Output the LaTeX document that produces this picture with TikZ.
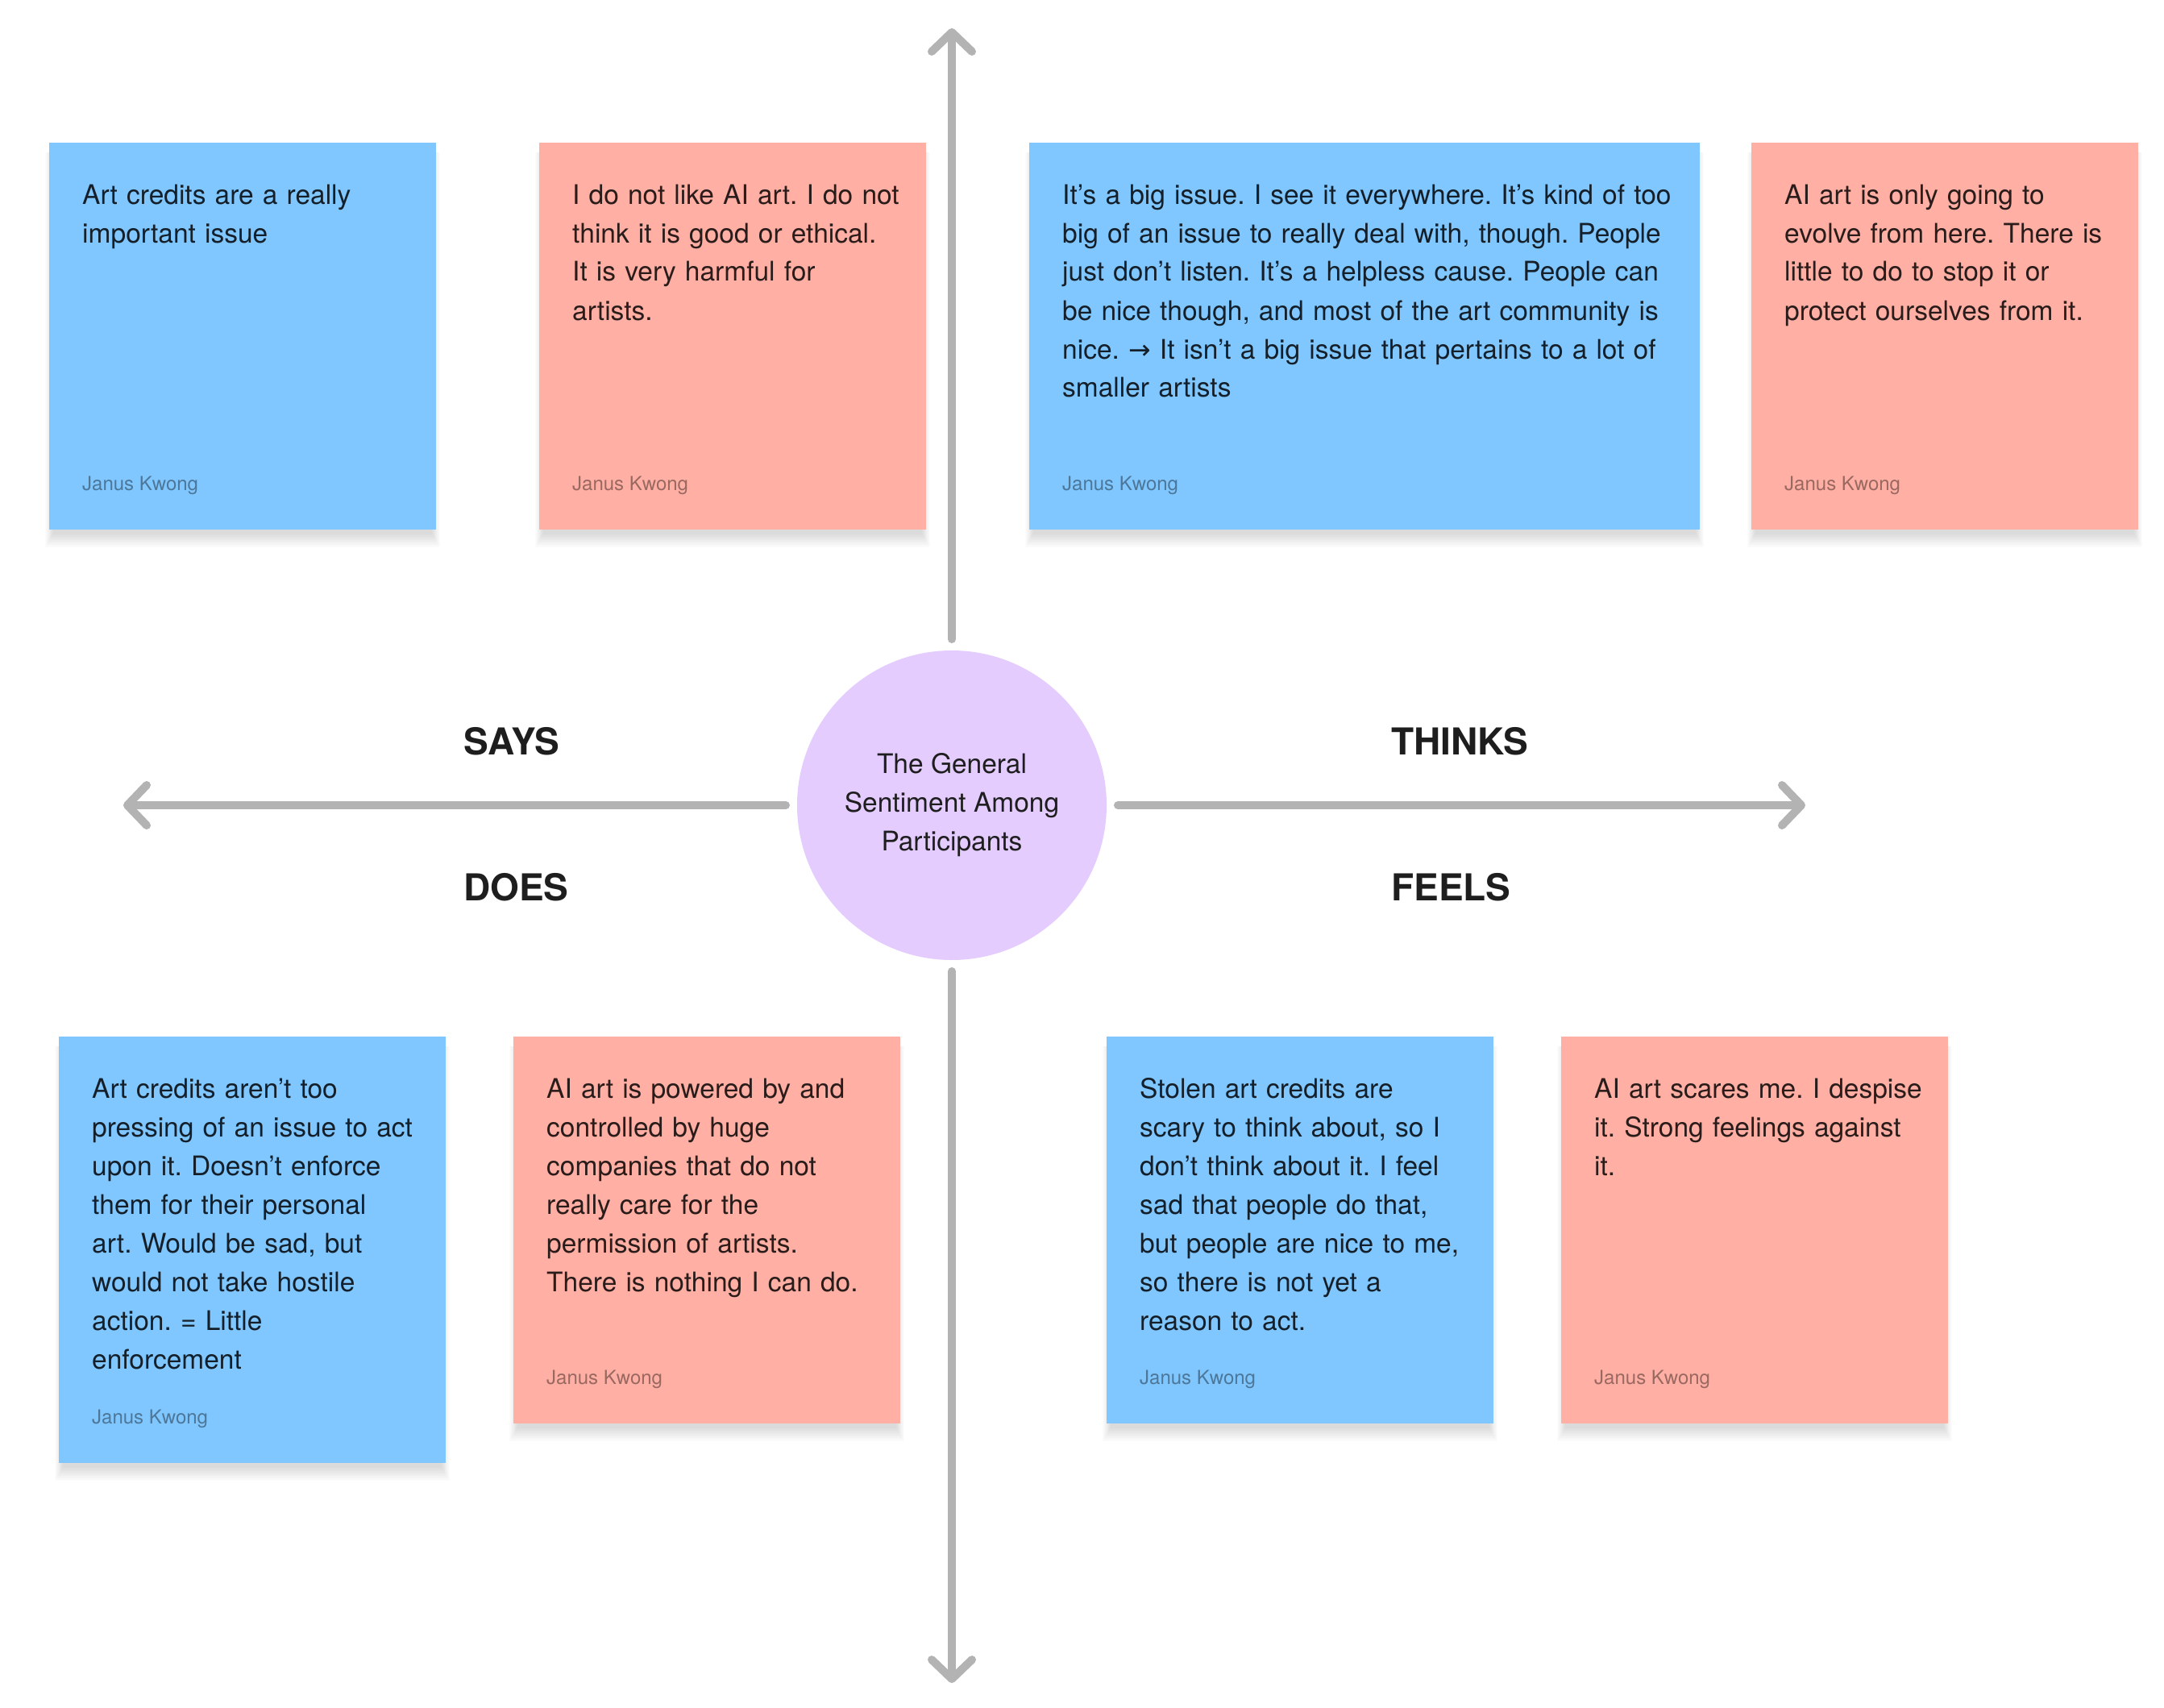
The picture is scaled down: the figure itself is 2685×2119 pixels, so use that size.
\documentclass[tikz,border=0pt]{standalone}
\usepackage{fontspec}
\setmainfont{TeX Gyre Heros}
\newfontfamily\arrowfont{DejaVu Sans}
\usetikzlibrary{arrows.meta}
\definecolor{noteblue}{HTML}{80C7FF}
\definecolor{notered}{HTML}{FFAFA3}
\definecolor{hub}{HTML}{E4CCFF}
\definecolor{axisgrey}{HTML}{B3B3B3}
\definecolor{ink}{HTML}{1E1E1E}
\frenchspacing
% soft drop shadow under a note: x, y (top left), width, height
\newcommand\notesoftshadow[4]{%
  \foreach \i in {1,...,12}{%
    \fill[black, fill opacity=0.011] (#1+6-\i*0.9, #2+12) rectangle (#1+#3-6+\i*0.9, #2+#4+4+1.5*\i);}}
\tikzset{
  note/.style={rectangle, inner sep=0pt, outer sep=0pt, anchor=north west,
    minimum width=480pt, minimum height=480pt},
  bluenote/.style={note, fill=noteblue},
  rednote/.style={note, fill=notered},
  body/.style={anchor=base west, inner sep=0pt, text width=480pt, align=left,
    font=\fontsize{33.5}{48}\selectfont, text=black, text opacity=0.84},
  author/.style={anchor=base west, inner sep=0pt, font=\fontsize{24}{28}\selectfont,
    text=black, text opacity=0.4},
  quadlabel/.style={anchor=base west, inner sep=0pt, font=\fontsize{46}{50}\selectfont\bfseries, text=ink},
  axis/.style={draw=axisgrey, line width=10pt, line cap=round,
    -{Straight Barb[length=24pt, width=50pt, round]}}
}
\begin{document}
\begin{tikzpicture}[x=1pt,y=-1pt]
\useasboundingbox[fill=white] (0,0) rectangle (2685,2119);

% shadows
\notesoftshadow{61}{177}{480}{480}
\notesoftshadow{669}{177}{480}{480}
\notesoftshadow{1277}{177}{832}{480}
\notesoftshadow{2173}{177}{480}{480}
\notesoftshadow{73}{1286}{480}{529}
\notesoftshadow{637}{1286}{480}{480}
\notesoftshadow{1373}{1286}{480}{480}
\notesoftshadow{1937}{1286}{480}{480}

% centre
\node[circle, fill=hub, minimum size=384pt, inner sep=0pt, outer sep=14pt, align=center,
  font=\fontsize{33.5}{48}\selectfont, text=ink] (hubnode) at (1181,999)
  {\raisebox{-3pt}{The General}\\\raisebox{-3pt}{Sentiment Among}\\\raisebox{-3pt}{Participants}};

\coordinate (tipN) at (1181,35);
\coordinate (tipS) at (1181,2088);
\coordinate (tipW) at (153,999);
\coordinate (tipE) at (2240,999);
\draw[axis] (hubnode.north) -- (tipN);
\draw[axis] (hubnode.south) -- (tipS);
\draw[axis] (hubnode.west) -- (tipW);
\draw[axis] (hubnode.east) -- (tipE);

% quadrant labels
\node[quadlabel] (says) at (575,936) {SAYS};
\node[quadlabel] (does) at (575,1117) {DOES};
\node[quadlabel] (thinks) at (1726,936) {THINKS};
\node[quadlabel] (feels) at (1726,1117) {FEELS};

% top row
\node[bluenote] (n1) at (61,177) {};
\node[body] (t1) at ([shift={(41,76)}]n1.north west)
  {Art credits are a really\\important issue};
\node[author] (a1) at ([shift={(41,-49)}]n1.south west) {Janus Kwong};

\node[rednote] (n2) at (669,177) {};
\node[body] (t2) at ([shift={(41,76)}]n2.north west)
  {I do not like AI art. I do not\\think it is good or ethical.\\It is very harmful for\\artists.};
\node[author] (a2) at ([shift={(41,-49)}]n2.south west) {Janus Kwong};

\node[bluenote, minimum width=832pt] (n3) at (1277,177) {};
\node[body, text width=840pt] (t3) at ([shift={(41,76)}]n3.north west)
  {It’s a big issue. I see it everywhere. It’s kind of too\\big of an issue to really deal with, though. People\\just don’t listen. It’s a helpless cause. People can\\be nice though, and most of the art community is\\nice. {\arrowfont\fontsize{33}{48}\selectfont →} It isn’t a big issue that pertains to a lot of\\smaller artists};
\node[author] (a3) at ([shift={(41,-49)}]n3.south west) {Janus Kwong};

\node[rednote] (n4) at (2173,177) {};
\node[body] (t4) at ([shift={(41,76)}]n4.north west)
  {AI art is only going to\\evolve from here. There is\\little to do to stop it or\\protect ourselves from it.};
\node[author] (a4) at ([shift={(41,-49)}]n4.south west) {Janus Kwong};

% bottom row
\node[bluenote, minimum height=529pt] (n5) at (73,1286) {};
\node[body] (t5) at ([shift={(41,76)}]n5.north west)
  {Art credits aren’t too\\pressing of an issue to act\\upon it. Doesn’t enforce\\them for their personal\\art. Would be sad, but\\would not take hostile\\action. = Little\\enforcement};
\node[author] (a5) at ([shift={(41,-49)}]n5.south west) {Janus Kwong};

\node[rednote] (n6) at (637,1286) {};
\node[body] (t6) at ([shift={(41,76)}]n6.north west)
  {AI art is powered by and\\controlled by huge\\companies that do not\\really care for the\\permission of artists.\\There is nothing I can do.};
\node[author] (a6) at ([shift={(41,-49)}]n6.south west) {Janus Kwong};

\node[bluenote] (n7) at (1373,1286) {};
\node[body] (t7) at ([shift={(41,76)}]n7.north west)
  {Stolen art credits are\\scary to think about, so I\\don’t think about it. I feel\\sad that people do that,\\but people are nice to me,\\so there is not yet a\\reason to act.};
\node[author] (a7) at ([shift={(41,-49)}]n7.south west) {Janus Kwong};

\node[rednote] (n8) at (1937,1286) {};
\node[body] (t8) at ([shift={(41,76)}]n8.north west)
  {AI art scares me. I despise\\it. Strong feelings against\\it.};
\node[author] (a8) at ([shift={(41,-49)}]n8.south west) {Janus Kwong};
\end{tikzpicture}
\end{document}
